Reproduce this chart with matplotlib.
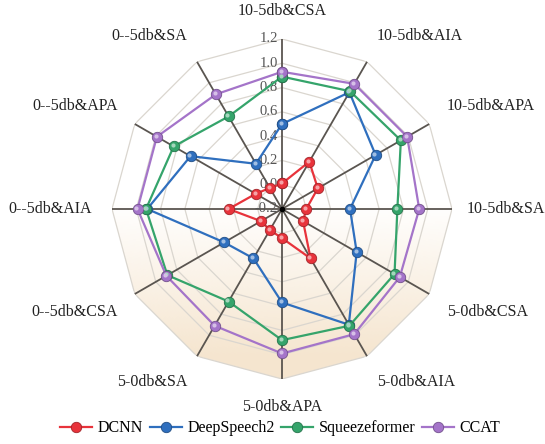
import numpy as np
import matplotlib
matplotlib.use("Agg")
import matplotlib.pyplot as plt
from matplotlib.lines import Line2D
from matplotlib.transforms import offset_copy
from matplotlib.colors import to_rgb, LinearSegmentedColormap

# radar axes, clockwise from the top
categories = ["10-5db&CSA", "10-5db&AIA", "10-5db&APA", "10-5db&SA",
              "5-0db&CSA", "5-0db&AIA", "5-0db&APA", "5-0db&SA",
              "0--5db&CSA", "0--5db&AIA", "0--5db&APA", "0--5db&SA"]

dcnn = [0.01, 0.25, 0.14, 0.0, 0.0, 0.27, 0.04, 0.0, 0.0, 0.24, 0.05, 0.0]
deepspeech2 = [0.50, 0.91, 0.69, 0.36, 0.51, 0.90, 0.57, 0.27, 0.35, 0.91, 0.67, 0.23]
squeezeformer = [0.89, 0.92, 0.93, 0.75, 0.87, 0.91, 0.88, 0.68, 0.89, 0.92, 0.83, 0.68]
ccat = [0.93, 0.99, 0.99, 0.93, 0.92, 0.99, 0.99, 0.91, 0.90, 0.99, 0.99, 0.89]

series_names = ["DCNN", "DeepSpeech2", "Squeezeformer", "CCAT"]
series_values = [dcnn, deepspeech2, squeezeformer, ccat]
series_colors = ["#e8333b", "#2f6fbe", "#35a46b", "#a474c9"]

r_ticks = [-0.2, 0.0, 0.2, 0.4, 0.6, 0.8, 1.0, 1.2]
r_tick_labels = ["-0.2", "0.0", "0.2", "0.4", "0.6", "0.8", "1.0", "1.2"]
R_MIN, R_MAX = -0.2, 1.2

plt.rcParams["font.family"] = ["Liberation Serif", "DejaVu Serif"]

fig = plt.figure(figsize=(5.45, 4.44), dpi=100)
ax = fig.add_axes([0.2055, 0.1464, 0.6239, 0.7658], projection="polar")
ax.set_theta_zero_location("N")
ax.set_theta_direction(-1)
ax.set_ylim(R_MIN, R_MAX)
ax.grid(False)
ax.spines["polar"].set_visible(False)
ax.set_xticks([])
ax.set_yticks([])
ax.patch.set_alpha(0)

n = len(categories)
angles = np.linspace(0, 2 * np.pi, n, endpoint=False)
closed = np.append(angles, angles[0])

# soft beige gradient, stronger toward the bottom
outer = ax.fill(closed, [R_MAX] * (n + 1), facecolor="none", edgecolor="none")[0]
th = np.linspace(0, 2 * np.pi, 361)
rr = np.linspace(R_MIN, R_MAX, 80)
TH, RR = np.meshgrid(th, rr)
yy = (RR - R_MIN) * np.cos(TH) / (R_MAX - R_MIN)
shade = np.clip(-yy * 1.1 + 0.05, 0, 1)
bg_cmap = LinearSegmentedColormap.from_list("bg", ["#ffffff", "#f5e5cf"])
mesh = ax.pcolormesh(TH, RR, shade, cmap=bg_cmap, vmin=0, vmax=1,
                     shading="auto", zorder=0)
mesh.set_clip_path(outer)

# ring polygons
for rv in r_ticks[1:]:
    ax.plot(closed, [rv] * (n + 1), color="#dad6cf", lw=0.9, zorder=1)

# spokes
for a in angles:
    ax.plot([a, a], [R_MIN, R_MAX], color="#5a5550", lw=1.3, zorder=2)
ax.plot([0], [R_MIN], "o", color="black", ms=3, zorder=3)

# radial tick labels left of the top spoke
lbl_tr = offset_copy(ax.transData, fig=fig, x=-3, y=0, units="points")
for rv, lab in zip(r_ticks, r_tick_labels):
    ax.text(0, rv, lab, transform=lbl_tr, ha="right", va="center",
            fontsize=10.5, color="#555555", zorder=2)

# series, later ones drawn on top
hl_tr = offset_copy(ax.transData, fig=fig, x=-0.8, y=0.8, units="points")
for name, vals, col in zip(series_names, series_values, series_colors):
    v = np.append(vals, vals[0])
    dark = tuple(c * 0.7 for c in to_rgb(col))
    light = tuple(c + (1 - c) * 0.55 for c in to_rgb(col))
    ax.plot(closed, v, color=col, lw=1.6, marker="o", ms=7.5,
            markerfacecolor=col, markeredgecolor=dark, markeredgewidth=0.6, zorder=4)
    ax.plot(angles, vals, ls="none", marker="o", ms=3, color=light,
            markeredgewidth=0, transform=hl_tr, zorder=5)

# category labels around the outside
for a, lab in zip(angles, categories):
    s, c = np.sin(a), np.cos(a)
    ha = "left" if s > 0.1 else ("right" if s < -0.1 else "center")
    va = "bottom" if c > 0.1 else ("top" if c < -0.1 else "center")
    r_lab = 1.32 if s > 0.99 else 1.365
    ax.text(a, r_lab, lab, ha=ha, va=va, fontsize=11.5, color="#222222",
            clip_on=False)

handles = [Line2D([0], [0], color=col, lw=1.6, marker="o", ms=7.5,
                  markerfacecolor=col, markeredgecolor=tuple(x * 0.7 for x in to_rgb(col)),
                  markeredgewidth=0.6)
           for col in series_colors]
fig.legend(handles, series_names, loc="center", bbox_to_anchor=(0.514, 0.035),
           ncol=4, frameon=False, fontsize=11.5, handlelength=2.0,
           columnspacing=0.4, handletextpad=0.35)

fig.savefig("out.png", dpi=100)
